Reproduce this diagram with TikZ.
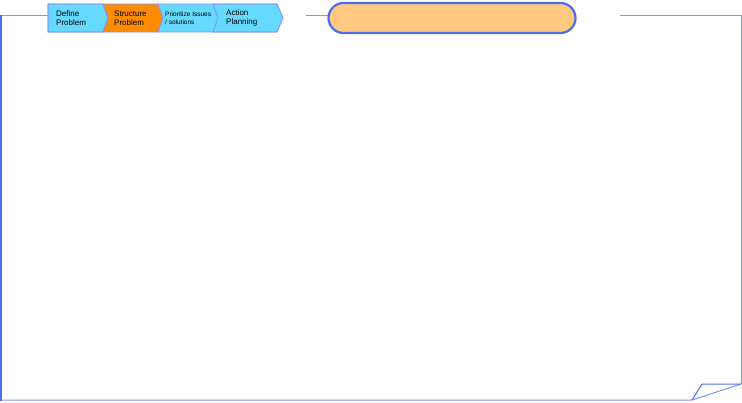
\documentclass[tikz,border=0pt]{standalone}
\usepackage{fontspec}
\setmainfont{Liberation Sans}
\usepackage{tikz}
\usetikzlibrary{positioning, calc}

\definecolor{stepcyan}{RGB}{102,217,255}
\definecolor{steporange}{RGB}{255,140,0}
\definecolor{pillfill}{RGB}{255,200,128}
\definecolor{pillblue}{RGB}{77,108,240}
\definecolor{framecol}{RGB}{125,150,250}

\begin{document}
\begin{tikzpicture}[
        x=1pt, y=-1pt,
        frameline/.style={framecol, line width=1pt},
        chevron/.style={draw=framecol, line width=0.6pt},
        steptext/.style={anchor=west, align=left, font=\fontsize{8}{9}\selectfont, inner sep=0pt},
    ]
        \useasboundingbox (0,0) rectangle (742,402);

        % Frame
        \coordinate (tl) at (2,15);
        \coordinate (tr) at (741,15);
        \coordinate (br) at (741,384);
        \coordinate (bl) at (2,400);
        \coordinate (fold) at (692,400);
        \coordinate (foldin) at (702,384);
        \draw[pillblue, line width=2pt] (1,15) -- (1,401);
        \draw[frameline] (tl) -- (48,15);
        \draw[frameline] (306,15) -- (328,15);
        \draw[frameline] (620,15) -- (tr) -- (br);
        \draw[frameline] (bl) -- (fold) -- (br);
        \draw[pillblue, line width=1pt] (fold) -- (foldin) -- (br);

        % Process steps
        \fill[chevron, fill=stepcyan] (48,4) -- (103,4) -- (108,18) -- (103,32) -- (48,32) -- cycle;
        \fill[chevron, fill=steporange] (103,4) -- (158,4) -- (163,18) -- (158,32) -- (103,32) -- (108,18) -- cycle;
        \fill[chevron, fill=stepcyan] (158,4) -- (213,4) -- (218,18) -- (213,32) -- (158,32) -- (163,18) -- cycle;
        \fill[chevron, fill=stepcyan] (213,4) -- (277,4) -- (283,18) -- (277,32) -- (213,32) -- (218,18) -- cycle;
        \draw[chevron] (48,4) -- (103,4) -- (108,18) -- (103,32) -- (48,32) -- cycle;
        \draw[chevron] (108,18) -- (103,4) (103,32) -- (108,18);
        \draw[chevron] (163,18) -- (158,4) (158,32) -- (163,18);
        \draw[chevron] (218,18) -- (213,4) (213,32) -- (218,18) -- cycle;
        \draw[chevron] (213,4) -- (277,4) -- (283,18) -- (277,32) -- (213,32);

        \node[steptext] (define) at (56,18) {Define\\Problem};
        \node[steptext] (structure) at (114,18) {Structure\\Problem};
        \node[steptext, font=\fontsize{6.5}{7.5}\selectfont] (prioritize) at (165,18) {Prioritize Issues\\/ solutions};
        \node[steptext] (action) at (226,18) {Action\\Planning};

        % Title pill
        \node[draw=pillblue, fill=pillfill, line width=2.2pt, rounded corners=15pt,
              minimum width=247pt, minimum height=30pt] (title) at (452,18) {};
    \end{tikzpicture}
\end{document}
